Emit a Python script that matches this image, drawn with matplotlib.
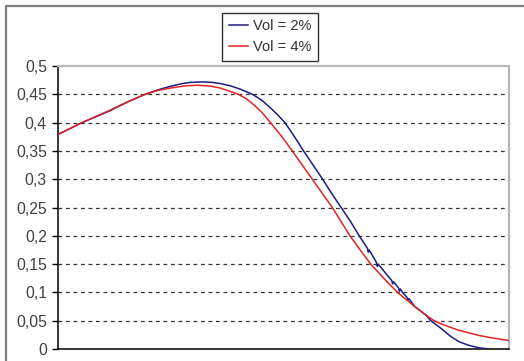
import matplotlib
matplotlib.use("Agg")
import matplotlib.pyplot as plt
from matplotlib.patches import Rectangle

plt.rcParams['font.family'] = ['Liberation Sans', 'DejaVu Sans']

# x positions are relative (0..100) along the unlabeled horizontal axis
x_vol2 = [0, 5.33, 11.56, 15.56, 19.33, 22.22, 24.89, 27.56, 29.33, 32, 34.22, 36,
          38.22, 40.44, 43.11, 45.11, 47.11, 48.67, 50.33, 52.44, 54.44, 56.56, 58.67,
          60.67, 62.78, 64.89, 66.78, 68.6, 68.8, 69.0, 70.6, 70.8, 71.0, 73.56,
          74.0, 74.2, 74.4, 75.5, 75.7, 75.9, 76.38, 77.4, 77.6, 77.8, 79.11, 81.56,
          82.67, 84.89, 87.11, 88.89, 90.89, 93.33, 95.78]
y_vol2 = [0.379, 0.400, 0.421, 0.437, 0.450, 0.458, 0.464, 0.469, 0.471, 0.472, 0.471, 0.469,
          0.465, 0.459, 0.450, 0.440, 0.426, 0.414, 0.400, 0.375, 0.350, 0.325, 0.300,
          0.275, 0.250, 0.225, 0.200, 0.178, 0.171, 0.175, 0.153, 0.146, 0.150, 0.125,
          0.121, 0.115, 0.119, 0.108, 0.102, 0.106, 0.100, 0.091, 0.086, 0.089, 0.075, 0.060,
          0.050, 0.0366, 0.022, 0.013, 0.007, 0.002, 0.000]

x_vol4 = [0, 5.33, 11.56, 15.56, 19.33, 22.22, 24.89, 28.22, 30.89, 33.78, 36, 38.22,
          40, 41.78, 43.33, 45.33, 47.11, 49.56, 51.93, 54.16, 56.38, 58.6, 60.82,
          62.78, 64.73, 67, 69.33, 72.22, 75.27, 79.11, 81.56, 83.4, 85.11, 87.11,
          88.89, 90.89, 93.33, 96, 100]
y_vol4 = [0.379, 0.400, 0.422, 0.437, 0.450, 0.457, 0.461, 0.465, 0.466, 0.4645, 0.461, 0.455,
          0.450, 0.442, 0.432, 0.417, 0.400, 0.376, 0.350, 0.325, 0.300, 0.275, 0.250,
          0.225, 0.200, 0.175, 0.150, 0.125, 0.100, 0.075, 0.060, 0.050, 0.044, 0.038,
          0.033, 0.029, 0.024, 0.020, 0.015]

series_labels = ["Vol = 2%", "Vol = 4%"]
y_ticks = [0, 0.05, 0.1, 0.15, 0.2, 0.25, 0.3, 0.35, 0.4, 0.45, 0.5]
y_ticklabels = ["0", "0,05", "0,1", "0,15", "0,2", "0,25", "0,3", "0,35", "0,4", "0,45", "0,5"]

W, H = 524, 361
fig = plt.figure(figsize=(W / 100, H / 100), dpi=100)
fig.patch.set_facecolor('white')

# outer chart frame (only top and left visible)
fig.patches.append(Rectangle((6 / W, -0.1), 1.2, 1 - 6 / H + 0.1, transform=fig.transFigure,
                             fill=False, edgecolor='#808080', linewidth=1.6))

ax = fig.add_axes([58 / W, (H - 349) / H, 451 / W, 283 / H])
ax.plot(x_vol2, y_vol2, color='#1c1c80', lw=1.1, label=series_labels[0], zorder=3)
ax.plot(x_vol4, y_vol4, color='#e02525', lw=1.1, label=series_labels[1], zorder=3)

ax.set_xlim(0, 100)
ax.set_ylim(0, 0.5)
ax.set_yticks(y_ticks)
ax.set_yticklabels(y_ticklabels, fontsize=11.3, color='#404040')
ax.set_xticks([])
ax.tick_params(axis='y', direction='out', length=4, width=1, color='black', pad=4)

for v in y_ticks[1:-1]:
    ax.axhline(v, color='#333333', lw=0.9, linestyle=(0, (3, 3)), zorder=1)

for s in ['left', 'bottom']:
    ax.spines[s].set_color('black')
    ax.spines[s].set_linewidth(1.1)
for s in ['top', 'right']:
    ax.spines[s].set_color('#b8b8b8')
    ax.spines[s].set_linewidth(1.6)

leg = fig.legend(loc='upper center', bbox_to_anchor=(270 / W, 1 - 12.5 / H), fontsize=10.5,
                 frameon=True, fancybox=False, edgecolor='black', handlelength=1.3,
                 handletextpad=0.35, borderpad=0.45, labelspacing=0.5, borderaxespad=0)
leg.get_frame().set_linewidth(1.0)
for t in leg.get_texts():
    t.set_color('#303030')

fig.savefig('out.png', dpi=100, facecolor='white')
